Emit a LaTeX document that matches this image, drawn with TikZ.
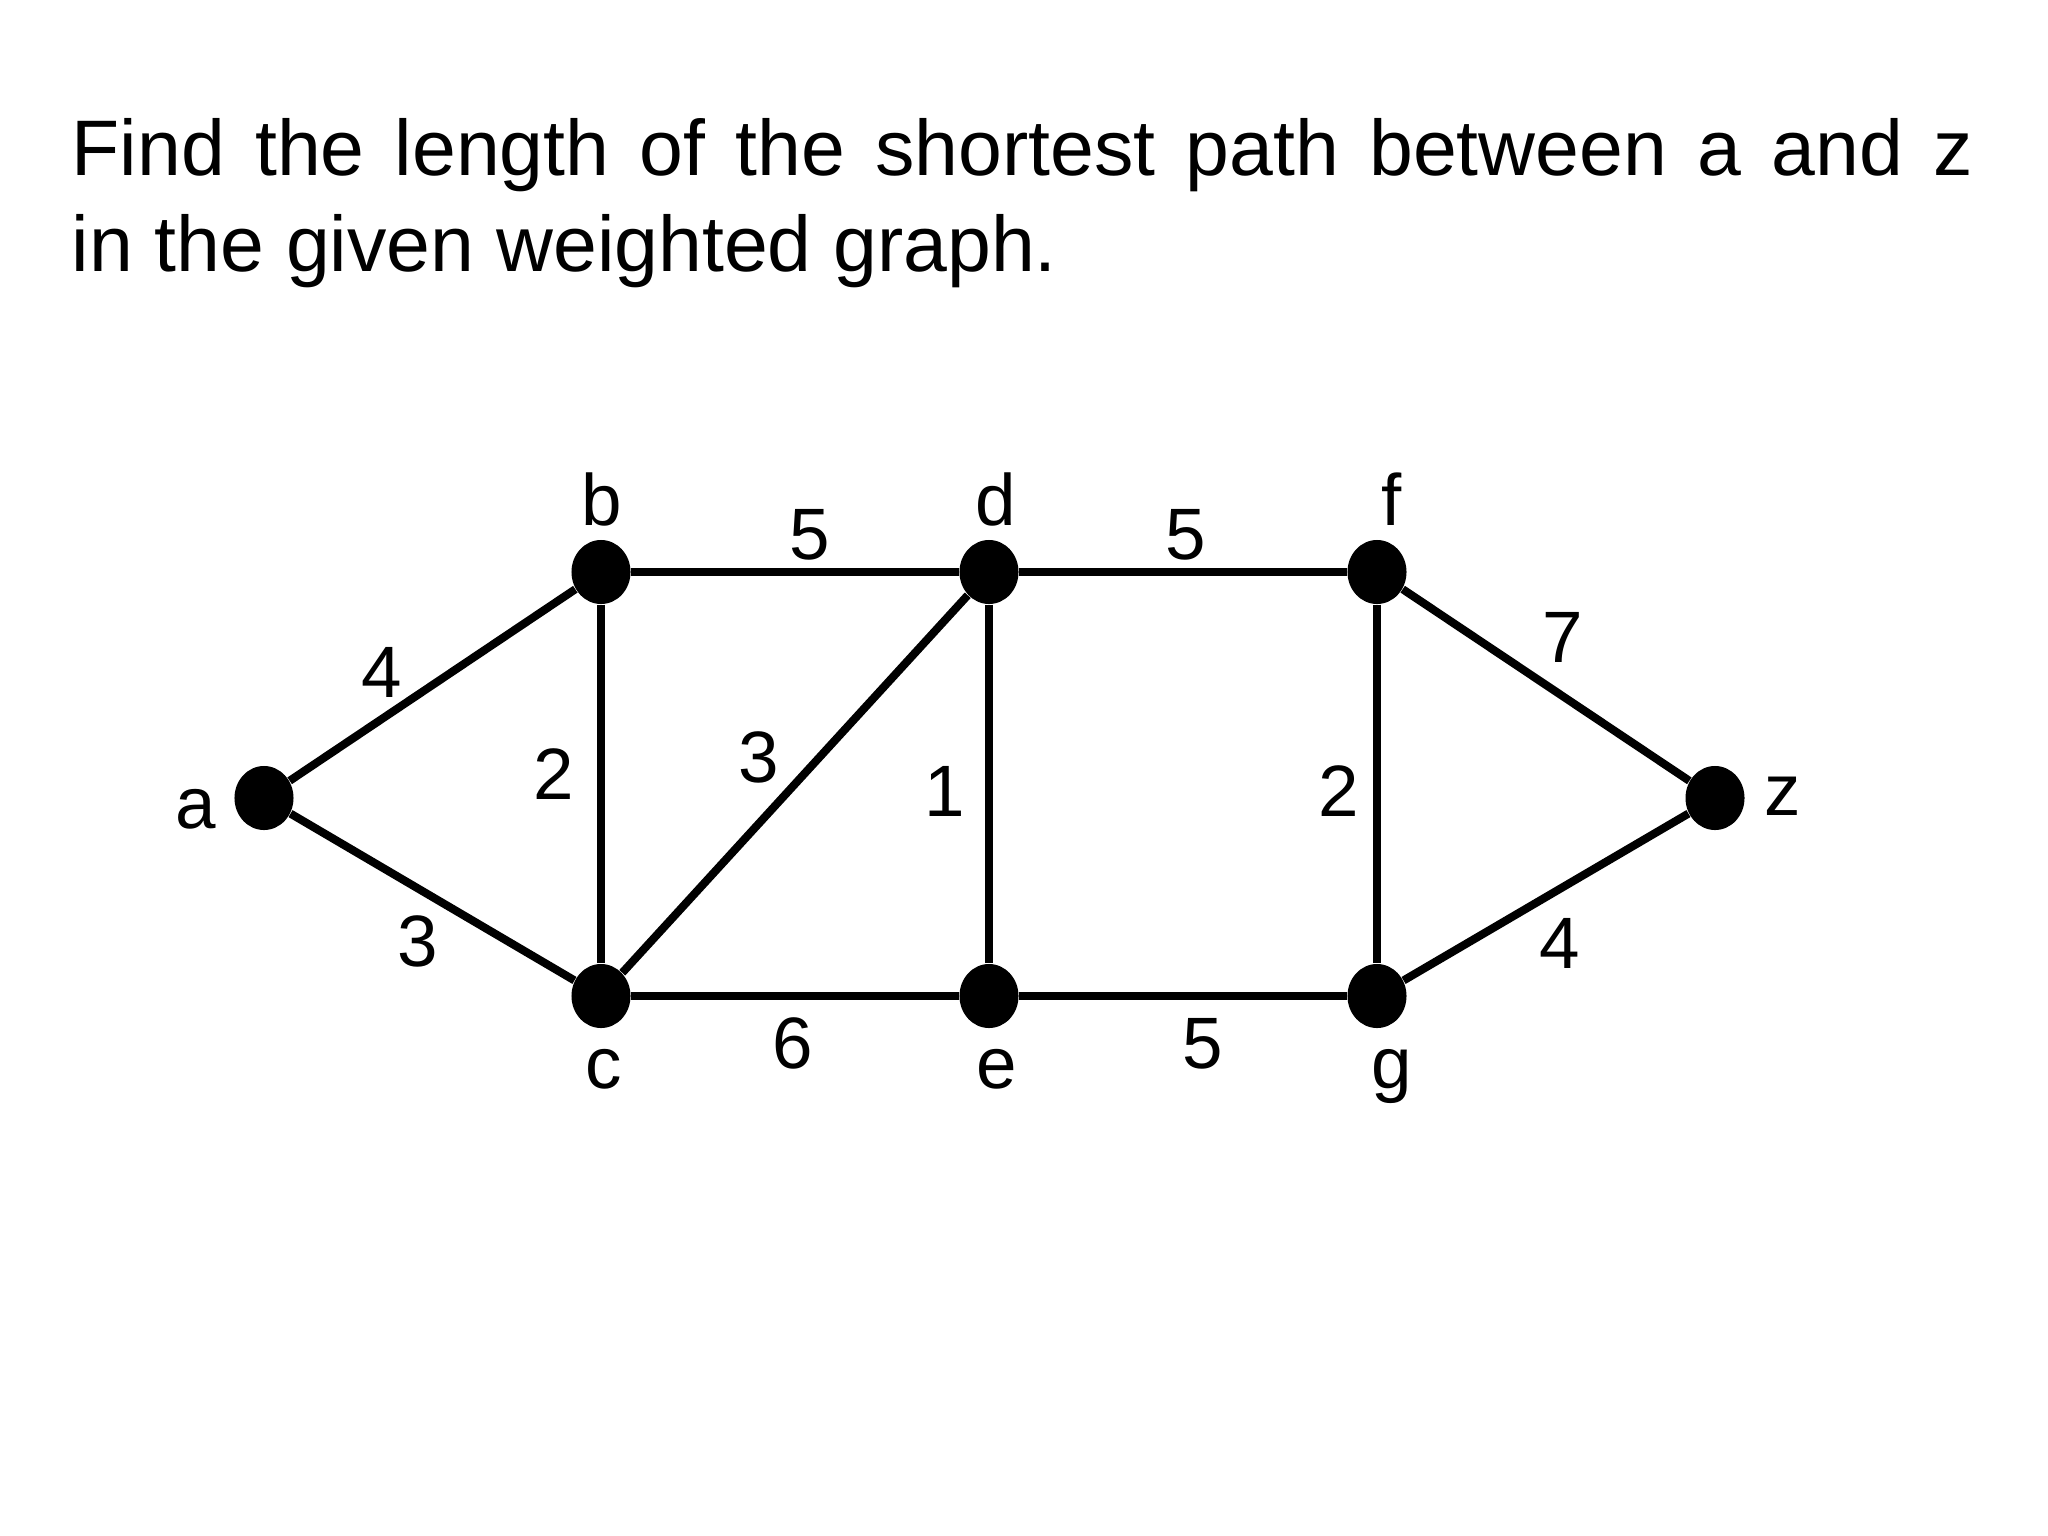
\documentclass[tikz,border=0pt]{standalone}
\usepackage{fontspec}
\setmainfont{Liberation Sans}
\usetikzlibrary{shapes.geometric}
\begin{document}
\begin{tikzpicture}[x=0.01cm,y=-0.01cm]
    \tikzstyle{vertex}=[ellipse,fill=black,minimum width=0.59cm,minimum height=0.64cm,inner sep=0pt]
    \tikzstyle{edge}=[line width=2.3pt]
    \tikzstyle{vlabel}=[anchor=base,inner sep=0pt,font=\fontsize{20.7}{24}\selectfont]
    \tikzstyle{wlabel}=[anchor=base,inner sep=0pt,font=\fontsize{20.7}{24}\selectfont]
    \tikzstyle{question}=[anchor=base west,inner sep=0pt,font=\fontsize{22.4}{27}\selectfont]
    \useasboundingbox (0,0) rectangle (2048,1536);
    \node[question] (q1) at (71,175) {\makebox[19.0cm][s]{Find the length of the shortest path between a and z}};
    \node[question] (q2) at (71,271) {in the given weighted graph.};
    % vertices
    \node[vertex] (a) at (264,798) {};
    \node[vertex] (b) at (601,572) {};
    \node[vertex] (c) at (601,996) {};
    \node[vertex] (d) at (989,572) {};
    \node[vertex] (e) at (989,996) {};
    \node[vertex] (f) at (1377,572) {};
    \node[vertex] (g) at (1377,996) {};
    \node[vertex] (z) at (1715,798) {};
    % edges
    \draw[edge] (a) -- (b);
    \draw[edge] (a) -- (c);
    \draw[edge] (b) -- (c);
    \draw[edge] (b) -- (d);
    \draw[edge] (c) -- (d);
    \draw[edge] (c) -- (e);
    \draw[edge] (d) -- (e);
    \draw[edge] (d) -- (f);
    \draw[edge] (e) -- (g);
    \draw[edge] (f) -- (g);
    \draw[edge] (f) -- (z);
    \draw[edge] (g) -- (z);
    % weights
    \node[wlabel] (wab) at (382,697) {4};
    \node[wlabel] (wac) at (418,966) {3};
    \node[wlabel] (wbc) at (554,799) {2};
    \node[wlabel] (wbd) at (810,559) {5};
    \node[wlabel] (wcd) at (759,782) {3};
    \node[wlabel] (wce) at (793,1068) {6};
    \node[wlabel] (wde) at (945,816) {1};
    \node[wlabel] (wdf) at (1186,559) {5};
    \node[wlabel] (weg) at (1203,1068) {5};
    \node[wlabel] (wfg) at (1339,816) {2};
    \node[wlabel] (wfz) at (1563,662) {7};
    \node[wlabel] (wgz) at (1560,968) {4};
    % vertex names
    \node[vlabel] (la) at (196,828) {a};
    \node[vlabel] (lb) at (602,525) {b};
    \node[vlabel] (lc) at (604,1088) {c};
    \node[vlabel] (ld) at (996,525) {d};
    \node[vlabel] (le) at (997,1088) {e};
    \node[vlabel] (lf) at (1392,525) {f};
    \node[vlabel] (lg) at (1392,1088) {g};
    \node[vlabel] (lz) at (1783,815) {z};
\end{tikzpicture}
\end{document}
